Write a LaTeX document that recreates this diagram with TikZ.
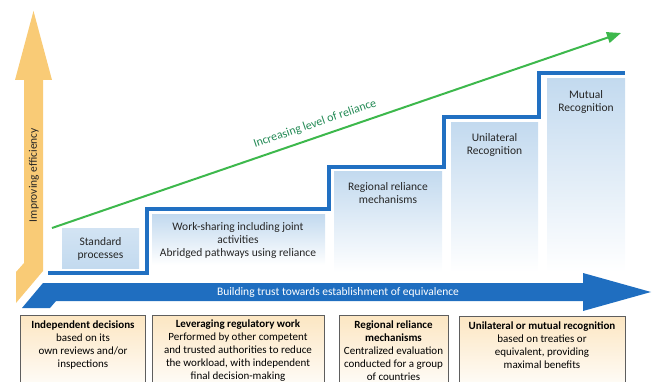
\documentclass[tikz,border=0pt]{standalone}
\usepackage{fontspec}
\setmainfont{Carlito}
\usetikzlibrary{arrows.meta}
\definecolor{arrowblue}{HTML}{1F6EC0}
\definecolor{stepblue}{HTML}{2170C2}
\definecolor{effyellow}{HTML}{F9CB76}
\definecolor{boxblue}{HTML}{C3DAEF}
\definecolor{relgreen}{HTML}{3DB84C}
\definecolor{reltext}{HTML}{238A55}
\definecolor{cream}{HTML}{FCE6C2}
\definecolor{boxedge}{HTML}{5E5E5E}
\tikzset{
  steptext/.style={align=center, font=\fontsize{11.5}{13}\selectfont, text=black!85},
  basetext/.style={align=center, font=\fontsize{11}{13}\selectfont, text=black},
  stepfill/.style={top color=boxblue, bottom color=white, draw=none},
  basebox/.style={top color=cream, bottom color=white, draw=boxedge, line width=0.8pt},
}
\begin{document}
\begin{tikzpicture}[x=1pt,y=-1pt]
\useasboundingbox (0,0) rectangle (656,382);
\clip (0,0) rectangle (656,382);

% yellow vertical arrow
\fill[effyellow] (24,80) -- (15,80) -- (33.5,11) -- (52,80) -- (43,80) -- (43,271)
  -- (16,303) -- (16,272) -- (24,263) -- cycle;
% blue horizontal arrow
\fill[arrowblue] (43,283) -- (583,283) -- (583,273) -- (651,292) -- (583,311)
  -- (583,301) -- (56,301) -- (50,308) -- (22,308) -- cycle;

% step boxes
\fill[top color=boxblue!75, bottom color=boxblue] (62,229) rectangle (139,268);
\fill[stepfill] (152,215) rectangle (325,265);
\fill[stepfill] (334,172) rectangle (442,272);
\fill[stepfill] (451,123) rectangle (538,272);
\fill[stepfill] (547,79) rectangle (625,272);

% staircase
\draw[stepblue, line width=3.5pt] (48,273) -- (147,273) -- (147,209) -- (329,209)
  -- (329,167) -- (444,167) -- (444,117) -- (539,117) -- (539,73) -- (625,73);

% green arrow
\coordinate (gs) at (52,228);
\coordinate (ge) at (621,33);
\draw[relgreen, line width=2pt, -{Triangle[length=14pt,width=11pt]}] (gs) -- (ge);
\node[text=reltext, font=\fontsize{12}{14}\selectfont, rotate=18.9] (rel) at (315,124) {Increasing level of reliance};

% labels
\node[text=black!85, font=\fontsize{11.5}{13}\selectfont, rotate=90] (eff) at (34,175) {Improving efficiency};
\node[text=white, font=\fontsize{11.5}{13}\selectfont] (trust) at (338,292) {Building trust towards establishment of equivalence};

\node[steptext] (std) at (100.5,249) {Standard\\processes};
\node[steptext] (ws) at (238,240) {Work-sharing including joint\\activities\\Abridged pathways using reliance};
\node[steptext] (reg) at (388,193.5) {Regional reliance\\mechanisms};
\node[steptext] (uni) at (494.5,144.5) {Unilateral\\Recognition};
\node[steptext] (mut) at (586,101.5) {Mutual\\Recognition};

% bottom boxes
\draw[basebox] (20,315) rectangle (145,395);
\draw[basebox] (152,315) rectangle (324,395);
\draw[basebox] (339,315) rectangle (448,395);
\draw[basebox] (459,316) rectangle (625,395);

\node[basetext] (b1) at (83,345) {\textbf{Independent decisions}\\based on its\\own reviews and/or\\inspections};
\node[basetext] (b2) at (238,350.5) {\textbf{Leveraging regulatory work}\\Performed by other competent\\and trusted authorities to reduce\\the workload, with independent\\final decision-making};
\node[basetext] (b3) at (393.5,350.5) {\textbf{Regional reliance}\\\textbf{mechanisms}\\Centralized evaluation\\conducted for a group\\of countries};
\node[basetext] (b4) at (542,345.5) {\textbf{Unilateral or mutual recognition}\\based on treaties or\\equivalent, providing\\maximal benefits};
\end{tikzpicture}
\end{document}
